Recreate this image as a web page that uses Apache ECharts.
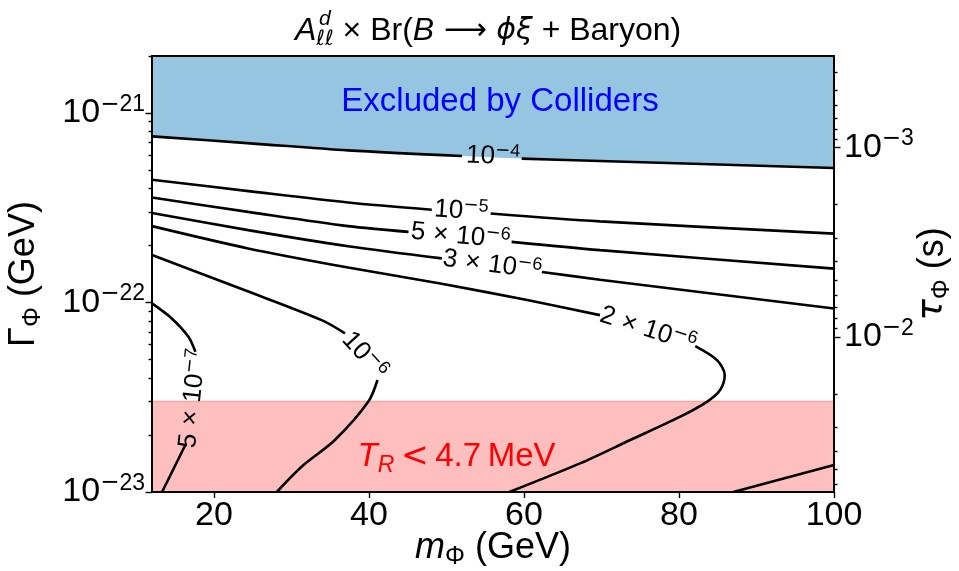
<!DOCTYPE html>
<html><head><meta charset="utf-8">
<script src="https://cdn.jsdelivr.net/npm/echarts@6/dist/echarts.min.js"></script>
<style>html,body{margin:0;padding:0;background:#fff}#chart{width:959px;height:571px}</style>
</head><body><div id="chart"></div>
<script>
// ---------------- data ----------------
const HBAR = 6.582e-25;                 // GeV s, tau = hbar / Gamma
const massRange = [12, 100];            // m_Phi (GeV)
const gammaRange = [1e-23, 2e-21];      // Gamma_Phi (GeV)
const massTicks = [20, 40, 60, 80, 100];
const gammaDecades = [-23, -22, -21];
const tauDecades = [-3, -2];
const reheatGamma = 3.0e-23;            // T_R < 4.7 MeV boundary

// contours [m (GeV), Gamma (GeV)], split where inline labels sit
const c1e4a = [[12, 7.53e-22], [24.7, 6.92e-22], [37.3, 6.35e-22], [52.0, 5.93e-22]];
const c1e4b = [[59.7, 5.75e-22], [69.8, 5.58e-22], [100, 5.13e-22]];
const c1e5a = [[12, 4.45e-22], [24.7, 3.86e-22], [37.3, 3.37e-22], [48.1, 3.09e-22]];
const c1e5b = [[55.7, 2.95e-22], [69.8, 2.68e-22], [100, 2.31e-22]];
const c5e6a = [[12, 3.58e-22], [24.4, 3.01e-22], [37.3, 2.53e-22], [45.1, 2.36e-22]];
const c5e6b = [[58.4, 2.09e-22], [69.8, 1.89e-22], [100, 1.51e-22]];
const c3e6a = [[12, 2.97e-22], [24.4, 2.41e-22], [37.3, 1.98e-22], [49.4, 1.71e-22]];
const c3e6b = [[62.3, 1.45e-22], [69.8, 1.32e-22], [100, 9.3e-23]];
const c3e6c = [[87.0, 1e-23], [100, 1.39e-23]];
const c2e6a = [[12, 2.53e-22], [24.4, 1.93e-22], [37.3, 1.53e-22], [49.2, 1.26e-22], [60.4, 1.03e-22], [69.8, 8.58e-23]];
const c2e6b = [[82.1, 5.89e-23], [84.9, 4.97e-23], [85.9, 4.14e-23], [85.3, 3.45e-23], [83.6, 2.99e-23], [80.1, 2.49e-23], [73.7, 1.88e-23], [67.3, 1.42e-23], [58.1, 1e-23]];
const c1e6a = [[12, 1.78e-22], [24.0, 1.16e-22], [33.9, 8.07e-23], [36.9, 6.87e-23]];
const c1e6b = [[41.1, 3.90e-23], [39.9, 2.99e-23], [35.6, 1.88e-23], [31.3, 1.36e-23], [28.1, 1e-23]];
const c5e7a = [[12, 9.89e-23], [14.55, 8.24e-23], [16.7, 6.59e-23], [17.6, 5.49e-23]];
const c5e7b = [[16.3, 1.77e-23], [13.3, 1e-23]];

// inline contour labels: [m, Gamma, mantissa, exponent]
const contourLabels = [
  [56.0, 5.90e-22, '', '4'],
  [51.9, 3.04e-22, '', '5'],
  [51.8, 2.24e-22, '5', '6'],
  [55.9, 1.58e-22, '3', '6'],
  [76.0, 7.20e-23, '2', '6'],
  [39.4, 5.25e-23, '', '6'],
  [17.3, 3.12e-23, '5', '7']
];
// region annotations: [m, Gamma]
const excludedPos = [56.9, 1.15e-21];
const reheatPos = [51.3, 1.53e-23];

// ---------------- styling / build ----------------
const labelRot = [-2.5, -4, -5.5, -7.5, -18, -48, 84];
const FONT = '"Liberation Sans", Arial, Helvetica, sans-serif';
const MFONT = '"DejaVu Sans", sans-serif';
const lg = v => Math.log10(v);
const toLog = pts => pts.map(p => [p[0], lg(p[1])]);
const GMIN = lg(gammaRange[0]), GMAX = lg(gammaRange[1]);
const TMIN = lg(HBAR / gammaRange[1]), TMAX = lg(HBAR / gammaRange[0]);
function minorTicks(lo, hi) {
  const out = [];
  for (let n = Math.floor(lo) - 1; n <= Math.ceil(hi); n++) {
    for (let k = 2; k <= 9; k++) {
      const v = n + Math.log10(k);
      if (v >= lo - 1e-9 && v <= hi + 1e-9) out.push(v);
    }
  }
  return out;
}
const AX = { color: '#000', width: 2 };
const TK = { color: '#000', width: 1.4 };
function supRich(fs, color) {
  const c = color || '#000';
  return {
    m: { fontSize: fs, lineHeight: fs, verticalAlign: 'top', fontFamily: MFONT, color: c },
    s: { fontSize: fs, lineHeight: fs, verticalAlign: 'top', fontFamily: FONT, color: c }
  };
}
const expText = e => '10{m|−}{s|' + e + '}';

function contour(pts) {
  return {
    type: 'line', data: toLog(pts), symbol: 'none', smooth: 0.3, z: 3,
    lineStyle: { color: '#000', width: 2.6 }, silent: true
  };
}

const contourSegs = [c1e4a, c1e4b, c1e5a, c1e5b, c5e6a, c5e6b, c3e6a, c3e6b, c3e6c,
  c2e6a, c2e6b, c1e6a, c1e6b, c5e7a, c5e7b];

const series = [
  { type: 'line', data: toLog(c1e4a.concat(c1e4b)), symbol: 'none', smooth: 0.3, z: 1, silent: true,
    lineStyle: { width: 0 }, areaStyle: { color: '#96c5e2', origin: 'end', opacity: 1 } },
  { type: 'line', data: toLog([[massRange[0], reheatGamma], [massRange[1], reheatGamma]]), symbol: 'none', z: 1, silent: true,
    lineStyle: { color: '#ffa3a3', width: 1.5 }, areaStyle: { color: '#ffbfbf', origin: 'start', opacity: 1 } }
].concat(contourSegs.map(contour));

const plainLabel = { textBorderWidth: 0, textShadowBlur: 0, opacity: 1 };
series.push({
  type: 'scatter', z: 5, silent: true, symbolSize: 1, itemStyle: { color: 'transparent', opacity: 1 },
  data: contourLabels.map((c, i) => ({
    value: [c[0], lg(c[1])],
    label: Object.assign({
      show: true, position: 'inside', rotate: labelRot[i],
      formatter: (c[2] ? c[2] + '{x|×}' : '') + expText(c[3]),
      fontSize: 26, lineHeight: 30, fontFamily: FONT, color: '#000',
      rich: Object.assign({ x: { fontSize: 26, lineHeight: 30, padding: [0, 8, 0, 8], fontFamily: FONT, color: '#000' } }, supRich(18))
    }, plainLabel)
  }))
});
series.push({
  type: 'scatter', z: 5, silent: true, symbolSize: 1, itemStyle: { color: 'transparent', opacity: 1 },
  data: [
    { value: [excludedPos[0], lg(excludedPos[1])],
      label: Object.assign({ show: true, position: 'inside', formatter: 'Excluded by Colliders', fontSize: 33, fontFamily: FONT, color: '#0000ff' }, plainLabel) },
    { value: [reheatPos[0], lg(reheatPos[1])],
      label: Object.assign({ show: true, position: 'inside', formatter: '{it|T}{sb|R}{lt|\u2009<\u2009}{n|4.7\u2009MeV}', fontSize: 33, lineHeight: 40, fontFamily: FONT, color: '#ff0000',
        rich: { it: { fontStyle: 'italic', fontSize: 33, lineHeight: 40, fontFamily: FONT, color: '#ff0000' },
                sb: { fontStyle: 'italic', fontSize: 23, lineHeight: 23, verticalAlign: 'bottom', fontFamily: FONT, color: '#ff0000' },
                lt: { fontSize: 33, lineHeight: 40, fontFamily: MFONT, color: '#ff0000' },
                n: { fontSize: 33, lineHeight: 40, fontFamily: FONT, color: '#ff0000' } } }, plainLabel) }
  ]
});

const NF = 36;
const nameRich = {
  it: { fontStyle: 'italic', fontSize: NF, lineHeight: 44, fontFamily: FONT, color: '#000' },
  gi: { fontStyle: 'italic', fontSize: NF, lineHeight: 44, fontFamily: MFONT, color: '#000' },
  sb: { fontSize: 25, lineHeight: 25, verticalAlign: 'bottom', fontFamily: FONT, color: '#000' },
  n: { fontSize: NF, lineHeight: 44, fontFamily: FONT, color: '#000' }
};
const TF = 34;

const option = {
  animation: false,
  backgroundColor: '#fff',
  grid: { left: 152, right: 125, top: 56, bottom: 79, containLabel: false, outerBoundsMode: 'none' },
  graphic: [
    { type: 'text', x: 295, y: 31, z: 10, style: {
      text: '{it|A}{sb|ℓℓ}{n| × Br(}{it|B}{ar| ⟶ }{gi|ϕξ}{n| + Baryon)}',
      verticalAlign: 'middle', align: 'left', fill: '#000', fontFamily: FONT, fontSize: 32,
      rich: {
        it: { fontStyle: 'italic', fontSize: 32, lineHeight: 38, fontFamily: FONT, fill: '#000' },
        gi: { fontStyle: 'italic', fontSize: 30, lineHeight: 38, fontFamily: MFONT, fill: '#000' },
        ar: { fontSize: 30, lineHeight: 38, fontFamily: MFONT, fill: '#000' },
        sb: { fontStyle: 'italic', fontSize: 21, lineHeight: 21, verticalAlign: 'bottom', fontFamily: MFONT, fill: '#000' },
        n: { fontSize: 32, lineHeight: 38, fontFamily: FONT, fill: '#000' }
      } } },
    { type: 'text', x: 319, y: 19, z: 10, style: { text: 'd', fontStyle: 'italic', fontSize: 21, fontFamily: FONT, fill: '#000', verticalAlign: 'middle', align: 'left' } }
  ],
  xAxis: [
    { type: 'value', position: 'bottom', min: massRange[0], max: massRange[1], z: 10,
      axisLine: { show: true, onZero: false, lineStyle: AX },
      axisTick: { show: true, customValues: massTicks, length: 6, lineStyle: TK },
      axisLabel: { customValues: massTicks, fontSize: TF, lineHeight: 40, fontFamily: FONT, color: '#000', margin: 4 },
      splitLine: { show: false },
      name: '{it|m}{sb|Φ}{n| (GeV)}', nameLocation: 'middle', nameGap: 34, nameMoveOverlap: false,
      nameTextStyle: { fontSize: NF, fontFamily: FONT, color: '#000', rich: nameRich } },
    { type: 'value', position: 'top', min: massRange[0], max: massRange[1], z: 10,
      axisLine: { show: true, onZero: false, lineStyle: AX },
      axisTick: { show: false }, axisLabel: { show: false }, splitLine: { show: false } }
  ],
  yAxis: [
    { type: 'value', position: 'left', min: GMIN, max: GMAX, z: 10,
      axisLine: { show: true, onZero: false, lineStyle: AX },
      axisTick: { show: true, customValues: gammaDecades, length: 6.5, lineStyle: TK },
      axisLabel: { customValues: gammaDecades, fontSize: TF, lineHeight: 40, fontFamily: FONT, color: '#000', margin: 7,
        formatter: v => expText(Math.round(-v)), rich: supRich(23) },
      splitLine: { show: false },
      name: '{n|Γ}{sb|Φ}{n| (GeV)}', nameLocation: 'middle', nameGap: 106, nameRotate: 90, nameMoveOverlap: false,
      nameTextStyle: { fontSize: NF, fontFamily: FONT, color: '#000', rich: nameRich } },
    { type: 'value', position: 'left', min: GMIN, max: GMAX, z: 10,
      axisLine: { show: false }, axisLabel: { show: false }, splitLine: { show: false },
      axisTick: { show: true, customValues: minorTicks(GMIN, GMAX), length: 3.5, lineStyle: TK } },
    { type: 'value', position: 'right', inverse: true, min: TMIN, max: TMAX, z: 10,
      axisLine: { show: true, onZero: false, lineStyle: AX },
      axisTick: { show: true, customValues: tauDecades, length: 6.5, lineStyle: TK },
      axisLabel: { customValues: tauDecades, fontSize: TF, lineHeight: 40, fontFamily: FONT, color: '#000', margin: 10,
        formatter: v => expText(Math.round(-v)), rich: supRich(23) },
      splitLine: { show: false },
      name: '{gi|τ}{sb|Φ}{n| (s)}', nameLocation: 'middle', nameGap: 77, nameRotate: 90, nameMoveOverlap: false,
      nameTextStyle: { fontSize: NF, fontFamily: FONT, color: '#000', rich: nameRich } },
    { type: 'value', position: 'right', inverse: true, min: TMIN, max: TMAX, z: 10,
      axisLine: { show: false }, axisLabel: { show: false }, splitLine: { show: false },
      axisTick: { show: true, customValues: minorTicks(TMIN, TMAX), length: 3.5, lineStyle: TK } }
  ],
  series: series
};

const chart = echarts.init(document.getElementById('chart'), null, { renderer: 'canvas' });
chart.setOption(option);
</script>
</body></html>
